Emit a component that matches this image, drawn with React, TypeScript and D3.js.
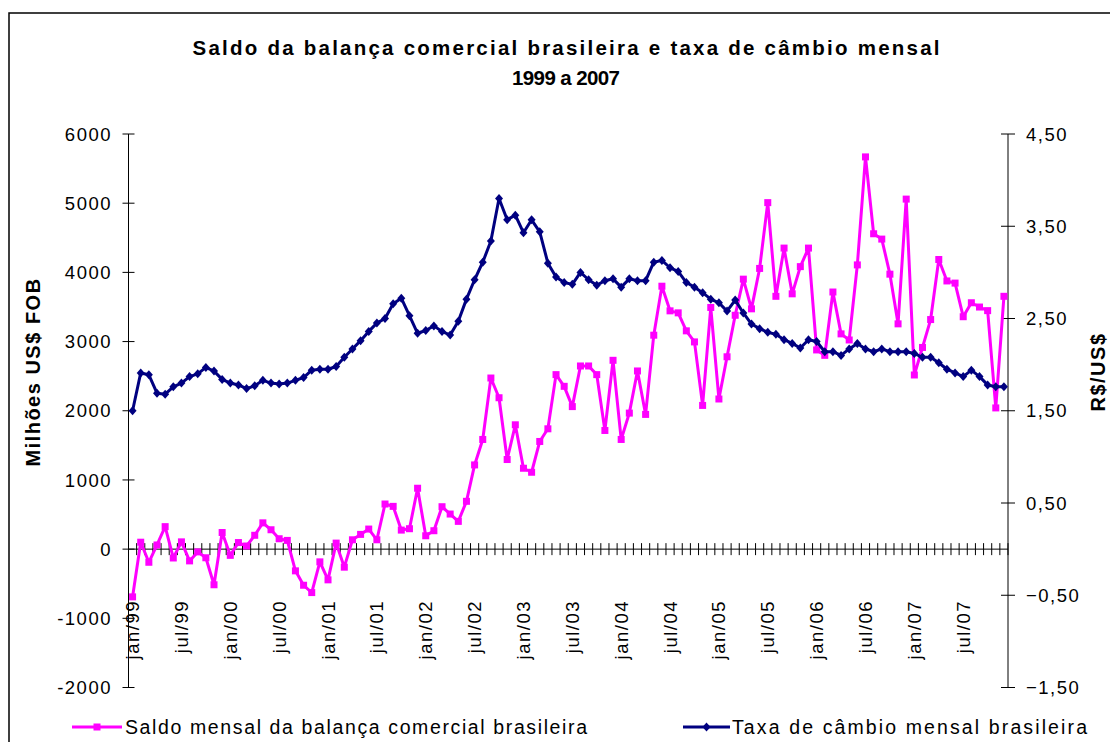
import React from "react";
import * as d3 from "d3";

const months = ["jan", "fev", "mar", "abr", "mai", "jun", "jul", "ago", "set", "out", "nov", "dez"];
const years = ["99", "00", "01", "02", "03", "04", "05", "06", "07"];
const categories = years.flatMap((y) => months.map((m) => `${m}/${y}`));
const shownLabels = [
  "jan/99", "jul/99", "jan/00", "jul/00", "jan/01", "jul/01", "jan/02", "jul/02", "jan/03",
  "jul/03", "jan/04", "jul/04", "jan/05", "jul/05", "jan/06", "jul/06", "jan/07", "jul/07",
];

// Saldo mensal da balança comercial (milhões US$ FOB)
const saldo = [
  -690, 100, -190, 60, 325, -128, 105, -170, -40, -125, -515, 240,
  -90, 95, 45, 200, 380, 280, 150, 126, -314, -522, -628, -184,
  -444, 87, -261, 135, 213, 290, 135, 652, 618, 275, 295, 880,
  193, 266, 613, 507, 401, 691, 1217, 1585, 2473, 2188, 1295, 1797,
  1169, 1111, 1556, 1739, 2522, 2353, 2060, 2647, 2647, 2522, 1715, 2729,
  1585, 1966, 2575, 1947, 3092, 3800, 3444, 3415, 3155, 2995, 2077, 3493,
  2170, 2780, 3380, 3902, 3473, 4057, 5008, 3654, 4351, 3690, 4083, 4351,
  2879, 2801, 3716, 3111, 3023, 4108, 5669, 4558, 4481, 3974, 3256, 5059,
  2517, 2915, 3318, 4186, 3876, 3845, 3359, 3561, 3499, 3447, 2041, 3654,
];

// Taxa de câmbio mensal (R$/US$)
const cambio = [
  1.50, 1.91, 1.89, 1.69, 1.68, 1.76, 1.80, 1.87, 1.90, 1.97, 1.93, 1.84,
  1.80, 1.78, 1.74, 1.77, 1.83, 1.80, 1.79, 1.80, 1.83, 1.86, 1.94, 1.95,
  1.95, 1.98, 2.08, 2.17, 2.26, 2.36, 2.45, 2.50, 2.66, 2.72, 2.53, 2.34,
  2.37, 2.42, 2.36, 2.32, 2.47, 2.71, 2.92, 3.11, 3.34, 3.80, 3.57, 3.62,
  3.43, 3.57, 3.44, 3.10, 2.95, 2.89, 2.87, 3.00, 2.92, 2.86, 2.91, 2.93,
  2.84, 2.93, 2.91, 2.91, 3.11, 3.13, 3.05, 3.01, 2.89, 2.84, 2.78, 2.71,
  2.67, 2.58, 2.70, 2.56, 2.44, 2.39, 2.35, 2.33, 2.27, 2.23, 2.18, 2.27,
  2.25, 2.14, 2.14, 2.10, 2.17, 2.23, 2.17, 2.14, 2.17, 2.14, 2.14, 2.14,
  2.12, 2.08, 2.08, 2.02, 1.95, 1.91, 1.87, 1.94, 1.87, 1.78, 1.76, 1.76,
];

const leftTicks = [-2000, -1000, 0, 1000, 2000, 3000, 4000, 5000, 6000];
const rightTicks = [-1.5, -0.5, 0.5, 1.5, 2.5, 3.5, 4.5];

const titleLine1 = "Saldo da balança comercial brasileira e taxa de câmbio mensal";
const titleLine2 = "1999 a 2007";
const leftAxisTitle = "Milhões US$ FOB";
const rightAxisTitle = "R$/US$";
const legendSaldo = "Saldo mensal da balança comercial brasileira";
const legendCambio = "Taxa de câmbio mensal brasileira";

const PINK = "#FF00FF";
const NAVY = "#000080";
const FONT = "'Liberation Sans', Arial, sans-serif";

export default function App() {
  const W = 1110;
  const H = 742;
  const plotL = 128.5;
  const plotR = 1008;
  const plotT = 134;
  const plotB = 687.5;

  const x = d3.scaleBand<string>().domain(categories).range([plotL, plotR]).paddingInner(0).paddingOuter(0);
  const bw = x.bandwidth();
  const xc = (c: string) => (x(c) as number) + bw / 2;
  const yL = d3.scaleLinear().domain([-2000, 6000]).range([plotB, plotT]);
  const yR = d3.scaleLinear().domain([-1.5, 4.5]).range([plotB, plotT]);

  const saldoLine = d3
    .line<number>()
    .x((_, i) => xc(categories[i]))
    .y((d) => yL(d));
  const cambioLine = d3
    .line<number>()
    .x((_, i) => xc(categories[i]))
    .y((d) => yR(d));

  const y0 = yL(0);
  const fmtR = (v: number) => d3.format(".2f")(v).replace(".", ",");

  const textStyle: React.CSSProperties = { fontFamily: FONT, fontSize: 18.5, letterSpacing: 1.5 };

  return (
    <svg
      width={W}
      height={H}
      viewBox={`0 0 ${W} ${H}`}
      style={{ position: "absolute", left: 0, top: 0, background: "#fff" }}
    >
      <rect x={0} y={0} width={W} height={H} fill="#fff" />
      {/* chart area border */}
      <rect x={9} y={13} width={W + 20} height={H + 20} fill="none" stroke="#000" strokeWidth={1.5} />

      {/* title */}
      <text x={566} y={55} textAnchor="middle" fontFamily={FONT} fontWeight="bold" fontSize={20.5} textLength={747} lengthAdjust="spacing">
        {titleLine1}
      </text>
      <text x={566} y={85} textAnchor="middle" fontFamily={FONT} fontWeight="bold" fontSize={20.5} textLength={108} lengthAdjust="spacing">
        {titleLine2}
      </text>

      {/* left axis */}
      <line x1={plotL} x2={plotL} y1={plotT} y2={plotB} stroke="#000" strokeWidth={1} />
      {leftTicks.map((t) => (
        <g key={`l${t}`}>
          <line x1={plotL - 6} x2={plotL + 6} y1={yL(t)} y2={yL(t)} stroke="#000" strokeWidth={1} />
          <text x={112} y={yL(t)} dy="0.36em" textAnchor="end" style={textStyle}>
            {String(t)}
          </text>
        </g>
      ))}
      <text
        transform={`translate(40, 372) rotate(-90)`}
        textAnchor="middle"
        fontFamily={FONT}
        fontWeight="bold"
        fontSize={20}
        letterSpacing={1.5}
      >
        {leftAxisTitle}
      </text>

      {/* right axis */}
      <line x1={plotR} x2={plotR} y1={plotT} y2={plotB} stroke="#000" strokeWidth={1} />
      {rightTicks.map((t) => (
        <g key={`r${t}`}>
          <line x1={plotR - 7} x2={plotR + 7} y1={yR(t)} y2={yR(t)} stroke="#000" strokeWidth={1} />
          <text x={1026} y={yR(t)} dy="0.36em" textAnchor="start" style={textStyle}>
            {fmtR(t)}
          </text>
        </g>
      ))}
      <text
        transform={`translate(1105, 372) rotate(-90)`}
        textAnchor="middle"
        fontFamily={FONT}
        fontWeight="bold"
        fontSize={20}
        letterSpacing={1.5}
      >
        {rightAxisTitle}
      </text>

      {/* category axis at zero */}
      <line x1={plotL} x2={plotR} y1={y0} y2={y0} stroke="#000" strokeWidth={1} />
      {d3.range(categories.length + 1).map((i) => (
        <line key={`xt${i}`} x1={plotL + i * bw} x2={plotL + i * bw} y1={y0 - 6} y2={y0 + 6} stroke="#000" strokeWidth={1} />
      ))}
      {categories
        .filter((c) => shownLabels.includes(c))
        .map((c) => (
          <text
            key={`xl${c}`}
            transform={`translate(${xc(c) + 6.5}, 600) rotate(-90)`}
            textAnchor="end"
            style={textStyle}
          >
            {c}
          </text>
        ))}

      {/* saldo series */}
      <path d={saldoLine(saldo) || ""} fill="none" stroke={PINK} strokeWidth={3} strokeLinejoin="round" />
      {saldo.map((v, i) => (
        <rect key={`s${i}`} x={xc(categories[i]) - 3.5} y={yL(v) - 3.5} width={7} height={7} fill={PINK} />
      ))}

      {/* cambio series */}
      <path d={cambioLine(cambio) || ""} fill="none" stroke={NAVY} strokeWidth={3} strokeLinejoin="round" />
      {cambio.map((v, i) => {
        const cx = xc(categories[i]);
        const cy = yR(v);
        return <path key={`c${i}`} d={`M${cx},${cy - 4.5}L${cx + 4},${cy}L${cx},${cy + 4.5}L${cx - 4},${cy}Z`} fill={NAVY} />;
      })}

      {/* legend */}
      <line x1={72} x2={122} y1={727} y2={727} stroke={PINK} strokeWidth={3} />
      <rect x={93.5} y={723.5} width={7} height={7} fill={PINK} />
      <text x={125} y={734} fontFamily={FONT} fontSize={19.5} textLength={462} lengthAdjust="spacing">
        {legendSaldo}
      </text>
      <line x1={683} x2={730} y1={727} y2={727} stroke={NAVY} strokeWidth={3} />
      <path d="M706.5,722.5L710.5,727L706.5,731.5L702.5,727Z" fill={NAVY} />
      <text x={732} y={734} fontFamily={FONT} fontSize={19.5} textLength={355} lengthAdjust="spacing">
        {legendCambio}
      </text>
    </svg>
  );
}
